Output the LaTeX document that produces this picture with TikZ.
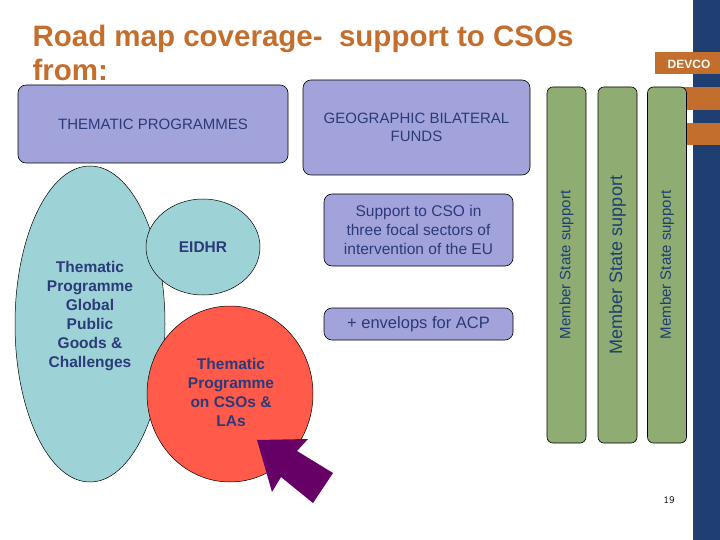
\documentclass[tikz,border=0pt]{standalone}
\usepackage{fontspec}
\setmainfont{Liberation Sans}
\usetikzlibrary{shapes.geometric,shapes.arrows}
\definecolor{navy}{HTML}{1F3F73}
\definecolor{org}{HTML}{C46E2E}
\definecolor{lav}{HTML}{A3A3DB}
\definecolor{teal}{HTML}{9DD3D6}
\definecolor{redc}{HTML}{FF5A4A}
\definecolor{grn}{HTML}{8FAC72}
\definecolor{txt}{HTML}{2B3A78}
\definecolor{purp}{HTML}{660066}
\tikzset{
 lbox/.style={draw=black,fill=lav,rounded corners=8pt,line width=0.6pt,text=txt,font=\fontsize{15}{18}\selectfont,align=center},
 gbar/.style={draw=black,fill=grn,rounded corners=6pt,line width=0.6pt,minimum width=39pt,minimum height=356pt,text=navy},
 oval/.style={draw=black,line width=0.5pt,shape=ellipse,inner sep=0pt,text=txt,align=center,font=\bfseries\fontsize{15.5}{19}\selectfont},
 otext/.style={text=txt,align=center,font=\bfseries\fontsize{15.5}{19}\selectfont}
}
\begin{document}
\begin{tikzpicture}[x=1pt,y=-1pt]
\useasboundingbox (0,0) rectangle (720,540);
\fill[white] (0,0) rectangle (720,540);
\fill[navy] (693,0) rectangle (720,540);
\fill[org] (655,52) rectangle (720,74);
\node[text=white,font=\bfseries\fontsize{12}{13}\selectfont] (devco) at (689,64) {DEVCO};
\fill[org] (655,87) rectangle (720,110);
\fill[org] (687,123) rectangle (720,145);
\node[anchor=west,text=org,font=\bfseries\fontsize{29.5}{34}\selectfont,align=left] (title) at (29,53) {Road map coverage-~ support to CSOs\\from:};
\node[lbox,minimum width=270pt,minimum height=78pt] (thp) at (153,124) {THEMATIC PROGRAMMES};
\node[lbox,minimum width=227pt,minimum height=95pt] (geo) at (416.5,127.5) {GEOGRAPHIC BILATERAL\\FUNDS};
\node[lbox,minimum width=189pt,minimum height=72pt,font=\fontsize{15.5}{19}\selectfont] (sup) at (418.5,230) {Support to CSO in\\three focal sectors of\\intervention of the EU};
\node[lbox,minimum width=189pt,minimum height=32pt,font=\fontsize{16.5}{18}\selectfont] (env) at (418.5,324) {+ envelops for ACP};
\node[gbar] (m1) at (566.5,265) {};
\node[rotate=90,text=navy,font=\fontsize{15}{17}\selectfont] at (m1) {Member State support};
\node[gbar] (m2) at (617.5,265) {};
\node[rotate=90,text=navy,font=\fontsize{18}{20}\selectfont] at (m2) {Member State support};
\node[gbar] (m3) at (667,265) {};
\node[rotate=90,text=navy,font=\fontsize{15}{17}\selectfont] at (m3) {Member State support};
\node[oval,fill=teal,minimum width=150pt,minimum height=316pt] (glob) at (90,324) {};
\node[otext] at (90,316) {Thematic\\Programme\\Global\\Public\\Goods \&\\Challenges};
\node[oval,fill=teal,minimum width=114pt,minimum height=96pt] (eidhr) at (203,247) {EIDHR};
\node[oval,fill=redc,minimum width=166pt,minimum height=176pt] (cso) at (230,394) {};
\node[otext] at (231,392) {Thematic\\Programme\\on CSOs \&\\LAs};
\fill[purp] (257,440) -- (308,439) -- (297,451) -- (333,473) -- (313,503) -- (281,477) -- (272,492) -- cycle;
\node[font=\ttfamily\fontsize{11}{12}\selectfont] (pg) at (669,500) {19};
\end{tikzpicture}
\end{document}
